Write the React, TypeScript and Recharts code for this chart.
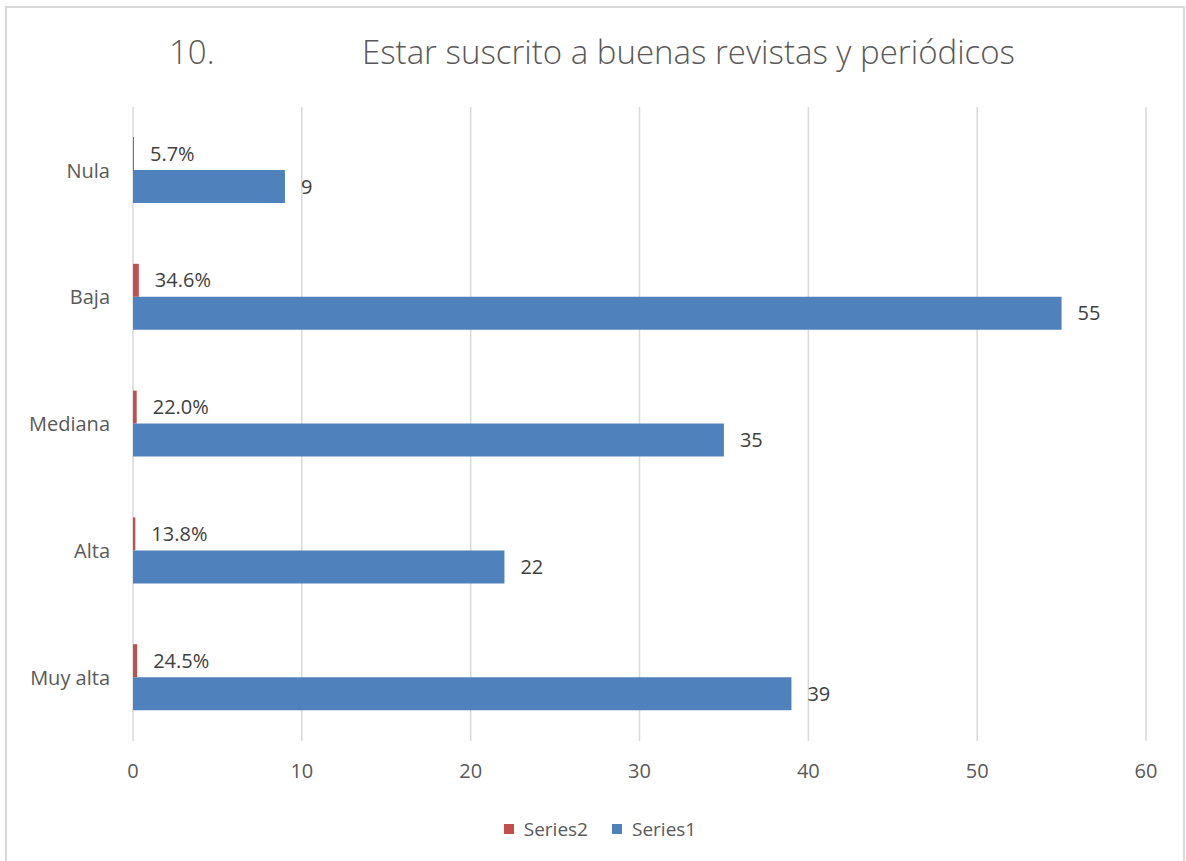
import { BarChart, Bar, XAxis, YAxis, CartesianGrid, Legend, LabelList } from 'recharts';

const categories = ['Nula', 'Baja', 'Mediana', 'Alta', 'Muy alta'];
const series1 = [9, 55, 35, 22, 39];
const series2 = [0.057, 0.346, 0.22, 0.138, 0.245];
const xTicks = [0, 10, 20, 30, 40, 50, 60];

const data = categories.map((name, i) => ({ name, s1: series1[i], s2: series2[i] }));

const FONT = '"Open Sans", "Noto Sans", sans-serif';
const GREY = '#595959';
const BLUE = '#4F81BD';
const RED = '#C0504D';

const legendItems = [
  { label: 'Series2', color: RED },
  { label: 'Series1', color: BLUE },
];

const renderLegend = () => (
  <div style={{ display: 'flex', justifyContent: 'center', alignItems: 'center', paddingLeft: 54, fontFamily: FONT, fontSize: 19, color: GREY }}>
    {legendItems.map((item, i) => (
      <div key={item.label} style={{ display: 'flex', alignItems: 'center', marginLeft: i === 0 ? 0 : 24 }}>
        <span style={{ width: 10, height: 10, background: item.color, marginRight: 10, display: 'inline-block' }} />
        <span>{item.label}</span>
      </div>
    ))}
  </div>
);

export default function App() {
  return (
    <div style={{ position: 'absolute', left: 0, top: 0, width: 1186, height: 861, overflow: 'hidden', background: '#fff' }}>
      <div
        style={{
          position: 'absolute',
          left: 5,
          top: 6,
          width: 1180,
          height: 880,
          border: '2px solid #d9d9d9',
          boxSizing: 'border-box',
        }}
      />
      <div style={{ position: 'absolute', top: 29, left: 0, width: 1186, height: 46, fontFamily: FONT, fontSize: 33, color: GREY, fontWeight: 300 }}>
        <span style={{ position: 'absolute', left: 169 }}>10.</span>
        <span style={{ position: 'absolute', left: 362 }}>Estar suscrito a buenas revistas y periódicos</span>
      </div>
      <BarChart
        width={1186}
        height={861}
        data={data}
        layout="vertical"
        margin={{ top: 107, right: 40, left: 0, bottom: 5 }}
        barGap={0}
        barSize={33}
        style={{ position: 'absolute', left: 0, top: 0 }}
      >
        <CartesianGrid horizontal={false} stroke="#d9d9d9" strokeWidth={1.5} />
        <XAxis
          type="number"
          domain={[0, 60]}
          ticks={xTicks}
          axisLine={false}
          tickLine={false}
          tickSize={0}
          tickMargin={23}
          height={75}
          tick={{ fill: GREY, fontSize: 20, fontFamily: FONT }}
        />
        <YAxis
          type="category"
          dataKey="name"
          width={133}
          axisLine={false}
          tickLine={false}
          tickSize={0}
          tickMargin={23}
          tick={{ fill: GREY, fontSize: 20, fontFamily: FONT }}
        />
        <Legend verticalAlign="bottom" height={40} content={renderLegend} />
        <Bar dataKey="s2" name="Series2" fill={RED} isAnimationActive={false}>
          <LabelList
            dataKey="s2"
            position="right"
            offset={16}
            formatter={(v: number) => (v * 100).toFixed(1) + '%'}
            style={{ fill: '#404040', fontSize: 20, fontFamily: FONT }}
          />
        </Bar>
        <Bar dataKey="s1" name="Series1" fill={BLUE} isAnimationActive={false}>
          <LabelList
            dataKey="s1"
            position="right"
            offset={16}
            style={{ fill: '#404040', fontSize: 20, fontFamily: FONT }}
          />
        </Bar>
      </BarChart>
    </div>
  );
}
